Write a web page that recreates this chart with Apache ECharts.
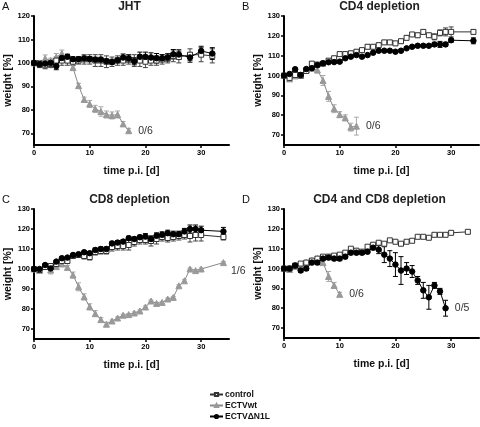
<!DOCTYPE html>
<html><head><meta charset="utf-8">
<script src="https://cdn.jsdelivr.net/npm/echarts@6/dist/echarts.min.js"></script>
<style>html,body{margin:0;padding:0;background:#fff}#c{width:480px;height:427px}</style>
</head><body><div id="c"></div>
<script>
// ---------- data ----------
const X_TICKS = [0, 10, 20, 30];
const Y_TICKS_A = [70, 80, 90, 100, 110, 120];
const Y_TICKS = [70, 80, 90, 100, 110, 120, 130];
const panelTitles = ['JHT', 'CD4 depletion', 'CD8 depletion', 'CD4 and CD8 depletion'];
const panelLetters = ['A', 'B', 'C', 'D'];
const seriesNames = ['control', 'ECTVwt', 'ECTV\u0394N1L'];

// Panel A (JHT)
const A_days_ctrl = [0,1,2,3,4,5,6,7,8,9,10,11,12,13,14,15,16,17,18,19,20,21,22,23,24,25,26,28,30,32];
const A_ctrl     = [100,99.5,99,99.5,101,101,101,100.5,101,101.5,101.5,101,101,100.5,100.5,101,101,101.5,101,101,100.5,101,101,101.5,102,103,102.5,103.5,103.5,103];
const A_ctrl_err = [0,1.5,1.5,1.5,1.5,2,2,1.5,1.5,2,2,2.5,2.5,2.5,2,2,2,2,2.5,2.5,2.5,2,2,2,2,2.5,2.5,2.5,3,3];
const A_days_dn  = [0,1,2,3,4,5,6,7,8,9,10,11,12,13,14,15,16,17,18,19,20,21,22,23,24,25,26,28,30,32];
const A_dn       = [100,99.4,99.7,100,98.6,102.1,102.6,101.6,101.6,101.9,101.7,101.4,101.4,100.7,100.4,101.1,102.3,101.9,100.7,102.6,102.6,102.3,102,102,102.3,103.7,103.6,102.3,105.1,104];
const A_dn_err   = [0,1,1,1,1.5,1,1,1,1,1,1,1,1,1,1,1,1.5,1.5,1.5,2,2,2,2,1.5,1.5,2,2,2,2,2.5];
const A_days_wt  = [0,1,2,3,4,5,6,7,8,9,10,11,12,13,14,15,16,17];
const A_wt       = [100,100,101.9,101,102.5,104,102,98,90.3,84.4,82.5,80.4,79.3,78,77.6,78,74,71.1];
const A_wt_err   = [0,1,1.5,1,1.5,1.5,2,1,1,1,1.5,1.5,2,1.5,1.5,1.5,1,1];
const A_wt_note  = '0/6';

// Panel B (CD4 depletion)
const B_days_ctrl = [0,1,2,3,4,5,6,7,8,9,10,11,12,13,14,15,16,17,18,19,20,21,22,23,24,25,26,27,28,29,30,34];
const B_ctrl      = [100,98.8,100.3,100,102.3,106,105.5,106,107.5,108.7,110.8,110.8,111.2,112,112.8,114.5,114.5,115.3,116.7,116.7,116.2,117.3,119,120.7,120.3,122,120.3,119.5,121.5,122,122,122];
const B_ctrl_err  = [0,1,1,1,1,1,1,1,1,1,1,1,1,1,1,1,1,1,1,1,1,1,1,1,1,1,1,1.5,1.5,2,2.5,1];
const B_days_dn   = [0,1,2,3,4,5,6,7,8,9,10,11,12,13,14,15,16,17,18,19,20,21,22,23,24,25,26,27,28,29,30,34];
const B_dn        = [100,100.8,103.2,100.3,103.3,103.7,105.3,106.2,106.7,106.8,107,108.7,109.5,110.3,109.5,110.3,111.5,112.5,112.5,112.5,112,112.5,113.7,114.5,115,115,115,115.7,115.7,115.7,117.8,117.5];
const B_dn_err    = [0,0.5,0.5,0.5,0.5,0.5,0.5,0.5,0.5,0.5,0.5,0.5,0.5,0.5,0.5,0.5,0.5,0.5,0.5,0.5,0.5,0.5,0.5,0.5,0.5,0.5,0.5,1,1.5,1,1,1.5];
const B_days_wt   = [0,1,2,3,4,5,6,7,8,9,10,11,12,13];
const B_wt        = [100,98.3,99.8,100,102.8,103.7,102.8,97.5,89.5,83.3,80.3,78.7,74,74.5];
const B_wt_err    = [0,1,1,1,1,1.5,1.5,2.5,2.5,2,1.5,1.5,2,4.5];
const B_wt_note   = '0/6';

// Panel C (CD8 depletion)
const C_days_ctrl = [0,1,2,3,4,5,6,7,8,9,10,11,12,13,14,15,16,17,18,19,20,21,22,23,24,25,26,27,28,29,30,34];
const C_ctrl      = [100,99.5,101,101.5,102.5,104,104,106.5,107,106.5,106,108.5,109,109,111,111.5,111.5,112,113.5,114.5,114.5,114,115,116,115.5,116,116.5,117,116.5,117,117,116];
const C_ctrl_err  = [0,1,1,1,1,1,1,1,1,1.5,1.5,1.5,1.5,1.5,2,2,2,2.5,2,2,2,2.5,2.5,2,2,2,2,2,3,3,3,1.5];
const C_days_dn   = [0,1,2,3,4,5,6,7,8,9,10,11,12,13,14,15,16,17,18,19,20,21,22,23,24,25,26,27,28,29,30,34];
const C_dn        = [100,100,102,100.3,103.7,105.4,105.7,107,107.4,108.4,107.9,109.5,110,110,112.8,113.2,113.7,115.4,115,115.9,116.2,115,116.6,117.1,117.9,117.4,117.4,118.8,120,120,119.4,118.8];
const C_dn_err    = [0,0.5,0.5,0.5,0.5,0.5,0.5,0.5,0.5,0.5,0.5,1,1,1,1,1,1,1,1,1,1.5,1.5,1.5,1.5,1.5,1.5,1.5,1.5,2,2,2,2];
const C_days_wt   = [0,1,2,3,4,5,6,7,8,9,10,11,12,13,14,15,16,17,18,19,20,21,22,23,24,25,26,27,28,29,30,34];
const C_wt        = [100,99.3,101.2,99.5,101.2,102.5,100.8,97,91.1,86.1,81.1,77.7,74.7,72.4,74,75.5,76.9,77.2,78,79,81,84,82.8,83.3,85,85.8,91.6,94.1,100,99.2,100,103.2];
const C_wt_err    = [0,1,1,2,1,1,1,1.5,2,1.5,1.5,1.5,1,1,0.5,0.5,0.5,0.5,0.5,0.5,0.5,0.5,0.5,0.5,0.5,0.5,0.5,0.5,0.5,0.5,0.5,0.5];
const C_wt_note   = '1/6';

// Panel D (CD4 and CD8 depletion)
const D_days_ctrl = [0,1,2,3,4,5,6,7,8,9,10,11,12,13,14,15,16,17,18,19,20,21,22,23,24,25,26,27,28,29,30,33];
const D_ctrl      = [100,100,101.5,102.5,103,104,105,106,106,106.5,107,108,110,109,108.5,111,112,113,112.5,114.2,113.5,112.5,113.5,114,116,116,115.5,117,117,117,118,118.5];
const D_ctrl_err  = [0,0.5,0.5,0.5,0.5,0.5,0.5,0.5,0.5,0.5,0.5,0.5,0.5,0.5,0.5,0.5,0.5,0.5,0.5,0.5,0.5,0.5,0.5,0.5,0.5,0.5,0.5,0.5,0.5,0.5,0.5,0.5];
const D_days_dn   = [0,1,2,3,4,5,6,7,8,9,10,11,12,13,14,15,16,17,18,19,20,21,22,23,24,25,26,27,28,29];
const D_dn        = [100,100,101.5,99,100,103,103,105,105.5,105,105,106,108,108,108,108.5,110.5,109.5,107,105,102,99,100,98.5,94,89,85.5,91.5,88.5,80];
const D_dn_err    = [0,0.5,1,1,1,1,1,1,1,1,1,1,1,1,1,1,1,2,4,4,6,7,3,3,2,4,6,1.5,1.5,4];
const D_days_wt   = [0,1,2,3,4,5,6,7,8,9,10];
const D_wt        = [100,99.5,101,102,103,104,105,103,96,91.5,87];
const D_wt_err    = [0,1,1,1,1,1,1,1.5,2.5,1.5,1];
const D_wt_note   = '0/6';
const D_dn_note   = '0/5';

// ---------- chart ----------
const FONT = '"Liberation Sans", Arial, Helvetica, sans-serif';
const panels = [
  {ctrl:[A_days_ctrl,A_ctrl,A_ctrl_err], wt:[A_days_wt,A_wt,A_wt_err], dn:[A_days_dn,A_dn,A_dn_err], wtNote:A_wt_note, dnNote:null, ymax:120, yt:Y_TICKS_A},
  {ctrl:[B_days_ctrl,B_ctrl,B_ctrl_err], wt:[B_days_wt,B_wt,B_wt_err], dn:[B_days_dn,B_dn,B_dn_err], wtNote:B_wt_note, dnNote:null, ymax:130, yt:Y_TICKS},
  {ctrl:[C_days_ctrl,C_ctrl,C_ctrl_err], wt:[C_days_wt,C_wt,C_wt_err], dn:[C_days_dn,C_dn,C_dn_err], wtNote:C_wt_note, dnNote:null, ymax:130, yt:Y_TICKS, wtNoteOffset:[-2,9]},
  {ctrl:[D_days_ctrl,D_ctrl,D_ctrl_err], wt:[D_days_wt,D_wt,D_wt_err], dn:[D_days_dn,D_dn,D_dn_err], wtNote:D_wt_note, dnNote:D_dn_note, ymax:130, yt:Y_TICKS}
];
const grids = [
  {left:34, top:16, width:195, height:129},
  {left:284, top:16, width:195, height:129},
  {left:34, top:209, width:195, height:130},
  {left:284, top:209, width:195, height:129}
];
const STY = {
  ctrl: {symbol:'rect', size:5, fill:'#fff', border:'#333', line:'#333', err:'#444'},
  wt:   {symbol:'triangle', size:6, fill:'#999', border:'#999', line:'#888', err:'#aaa'},
  dn:   {symbol:'circle', size:5.5, fill:'#000', border:'#000', line:'#000', err:'#000'}
};

function errSeries(gi, arr, color, z) {
  const data = arr[0].map((d, i) => [d, arr[1][i], arr[2][i]]);
  return {
    type:'custom', xAxisIndex:gi, yAxisIndex:gi, z:z, silent:true,
    encode:{x:0, y:1},
    data:data,
    renderItem:function(params, api){
      const x = api.value(0), y = api.value(1), e = api.value(2);
      if (!e) return null;
      const t = api.coord([x, y + e]), b = api.coord([x, y - e]);
      const w = 2.5;
      const st = {stroke:color, lineWidth:1};
      return {type:'group', children:[
        {type:'line', shape:{x1:t[0], y1:t[1], x2:b[0], y2:b[1]}, style:st},
        {type:'line', shape:{x1:t[0]-w, y1:t[1], x2:t[0]+w, y2:t[1]}, style:st},
        {type:'line', shape:{x1:b[0]-w, y1:b[1], x2:b[0]+w, y2:b[1]}, style:st}
      ]};
    }
  };
}
function lineSeries(gi, name, arr, s, z, note, noteOffset) {
  const data = arr[0].map((d, i) => {
    const item = {value:[d, arr[1][i]]};
    if (note && i === arr[0].length - 1) {
      item.label = {show:true, formatter:note, position:'right', distance:6,
        offset: noteOffset || [0,0], fontSize:10.5, color:'#333', fontFamily:FONT};
    }
    return item;
  });
  return {
    type:'line', name:name, xAxisIndex:gi, yAxisIndex:gi, z:z,
    data:data, symbol:s.symbol, symbolSize:s.size, showSymbol:true, showAllSymbol:true,
    lineStyle:{color:s.line, width:1},
    itemStyle:{color:s.fill, borderColor:s.border, borderWidth:1},
    emphasis:{disabled:true}, animation:false
  };
}

const xAxes = [], yAxes = [], series = [], titles = [];
panels.forEach((p, gi) => {
  xAxes.push({
    gridIndex:gi, type:'value', min:0, max:35,
    axisLine:{show:true, onZero:false, lineStyle:{color:'#000', width:2}},
    axisTick:{show:true, length:3, customValues:X_TICKS, lineStyle:{color:'#000', width:1.5}},
    axisLabel:{customValues:X_TICKS, fontSize:7.5, fontWeight:'bold', color:'#000', margin:4, fontFamily:FONT},
    splitLine:{show:false},
    name:'time p.i. [d]', nameLocation:'middle', nameGap:21,
    nameTextStyle:{fontSize:10.5, fontWeight:'bold', color:'#111', fontFamily:FONT}
  });
  yAxes.push({
    gridIndex:gi, type:'value', min:65, max:p.ymax,
    axisLine:{show:true, onZero:false, lineStyle:{color:'#000', width:2}},
    axisTick:{show:true, length:3, customValues:p.yt, lineStyle:{color:'#000', width:1.5}},
    axisLabel:{customValues:p.yt, fontSize:7.5, fontWeight:'bold', color:'#000', margin:4, fontFamily:FONT},
    splitLine:{show:false},
    name:'weight [%]', nameLocation:'middle', nameGap:17, nameRotate:90,
    nameTextStyle:{fontSize:10.5, fontWeight:'bold', color:'#111', fontFamily:FONT}
  });
  series.push(errSeries(gi, p.wt, STY.wt.err, 1));
  series.push(errSeries(gi, p.ctrl, STY.ctrl.err, 2));
  series.push(errSeries(gi, p.dn, STY.dn.err, 3));
  series.push(lineSeries(gi, seriesNames[1], p.wt, STY.wt, 4, p.wtNote, p.wtNoteOffset));
  series.push(lineSeries(gi, seriesNames[0], p.ctrl, STY.ctrl, 5, null));
  series.push(lineSeries(gi, seriesNames[2], p.dn, STY.dn, 6, p.dnNote));
  const g = grids[gi];
  titles.push({text:panelTitles[gi], left:g.left + g.width/2 - 2, top:g.top - 15, textAlign:'center', padding:0,
    textStyle:{fontSize:12, fontWeight:'bold', color:'#222', fontFamily:FONT}});
  titles.push({text:panelLetters[gi], left:(gi % 2) ? 242 : 2, top:g.top - 15, padding:0,
    textStyle:{fontSize:11, fontWeight:'normal', color:'#111', fontFamily:FONT}});
});

const chart = echarts.init(document.getElementById('c'), null, {renderer:'canvas'});
chart.setOption({
  animation:false,
  backgroundColor:'#fff',
  title:titles,
  grid:grids,
  xAxis:xAxes,
  yAxis:yAxes,
  legend:{
    data:seriesNames, orient:'vertical', left:209, top:389, height:40, padding:0,
    itemWidth:13, itemHeight:4, itemGap:0,
    textStyle:{fontSize:8.5, fontWeight:'bold', color:'#111', fontFamily:FONT, lineHeight:11, padding:[0,0,0,-3]},
    selectedMode:false
  },
  series:series
});
</script></body></html>
